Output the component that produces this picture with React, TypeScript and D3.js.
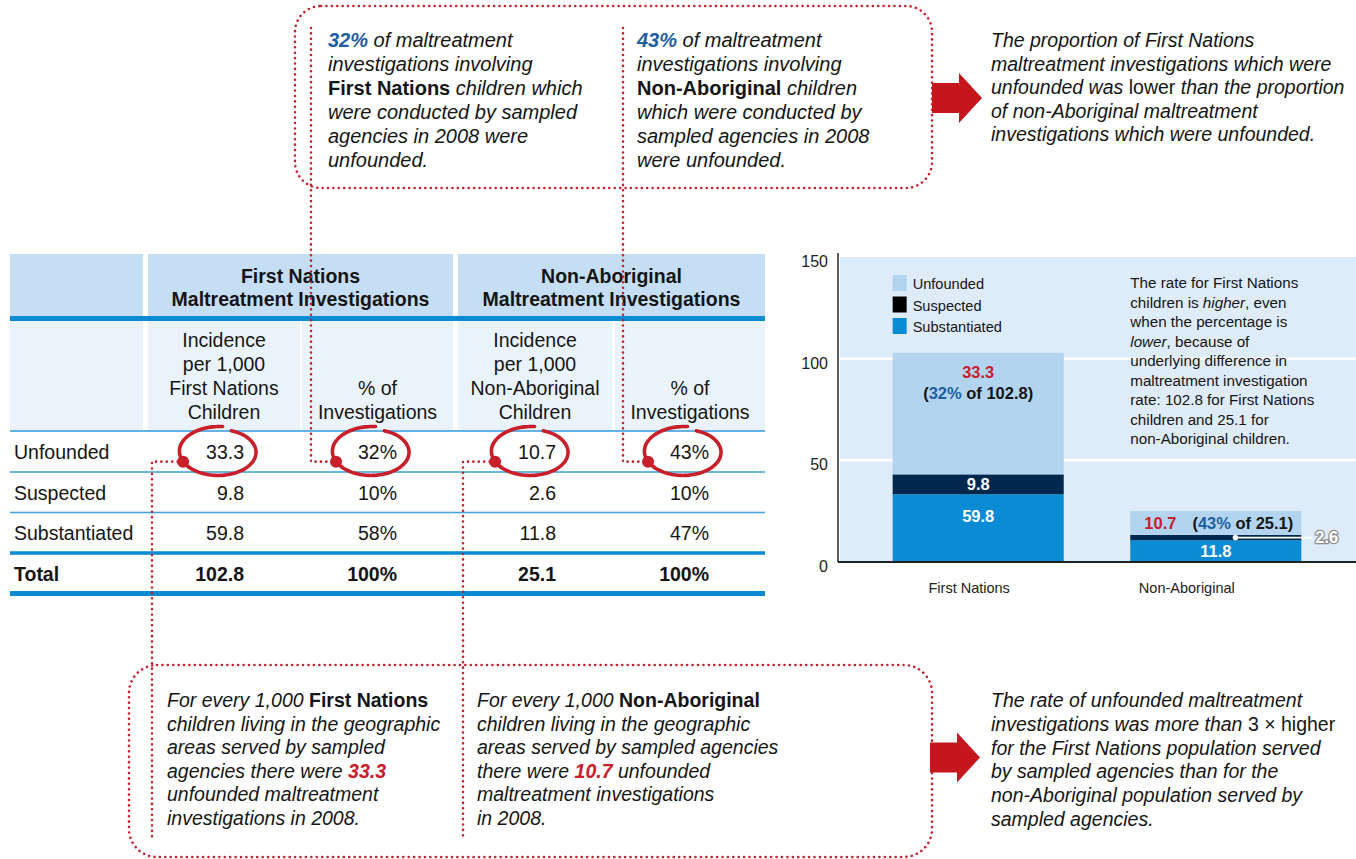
import React from "react";
import * as d3 from "d3";

// ---- data ----
const categories = ["First Nations", "Non-Aboriginal"];
const rowLabels = ["Unfounded", "Suspected", "Substantiated", "Total"];
const fnIncidence = [33.3, 9.8, 59.8, 102.8];
const fnPercent = [32, 10, 58, 100];
const naIncidence = [10.7, 2.6, 11.8, 25.1];
const naPercent = [43, 10, 47, 100];

const unfounded = [33.3, 10.7];
const suspected = [9.8, 2.6];
const substantiated = [59.8, 11.8];
const totals = [102.8, 25.1];
const unfoundedShare = [32, 43];
const yTicks = [0, 50, 100, 150];
const legendLabels = ["Unfounded", "Suspected", "Substantiated"];

const groupHeads = [
  ["First Nations", "Maltreatment Investigations"],
  ["Non-Aboriginal", "Maltreatment Investigations"],
];
const subHeads = [
  ["Incidence", "per 1,000", "First Nations", "Children"],
  ["% of", "Investigations"],
  ["Incidence", "per 1,000", "Non-Aboriginal", "Children"],
  ["% of", "Investigations"],
];

const topLeftNote = [
  "{B:32%} of maltreatment",
  "investigations involving",
  "{b:First Nations} children which",
  "were conducted by sampled",
  "agencies in 2008 were",
  "unfounded.",
];
const topMidNote = [
  "{B:43%} of maltreatment",
  "investigations involving",
  "{b:Non-Aboriginal} children",
  "which were conducted by",
  "sampled agencies in 2008",
  "were unfounded.",
];
const topRightNote = [
  "The proportion of First Nations",
  "maltreatment investigations which were",
  "unfounded was {n:lower} than the proportion",
  "of non-Aboriginal maltreatment",
  "investigations which were unfounded.",
];
const botLeftNote = [
  "For every 1,000 {b:First Nations}",
  "children living in the geographic",
  "areas served by sampled",
  "agencies there were {R:33.3}",
  "unfounded maltreatment",
  "investigations in 2008.",
];
const botMidNote = [
  "For every 1,000 {b:Non-Aboriginal}",
  "children living in the geographic",
  "areas served by sampled agencies",
  "there were {R:10.7} unfounded",
  "maltreatment investigations",
  "in 2008.",
];
const botRightNote = [
  "The rate of unfounded maltreatment",
  "investigations was more than {n:3 × higher}",
  "for the First Nations population served",
  "by sampled agencies than for the",
  "non-Aboriginal population served by",
  "sampled agencies.",
];
const chartNote = [
  "The rate for First Nations",
  "children is {i:higher}, even",
  "when the percentage is",
  "{i:lower}, because of",
  "underlying difference in",
  "maltreatment investigation",
  "rate: 102.8 for First Nations",
  "children and 25.1 for",
  "non-Aboriginal children.",
];

// ---- style ----
const W = 1356;
const H = 859;
const FONT = "'Liberation Sans', Arial, Helvetica, sans-serif";
const INK = "#151515";
const RED = "#c8202a";
const ARROW = "#c4161c";
const BLUE_TXT = "#1f5e9e";
const HEAD1 = "#c6def4";
const HEAD2 = "#eaf3fc";
const LINE = "#0a8bd3";
const THIN = "#44a5e0";
const LIGHT = "#b2d4ef";
const MID = "#0a8bd3";
const NAVY = "#00284f";
const PLOT_BG = "#deebf8";

const COLS: [number, number][] = [
  [148, 300],
  [302, 453],
  [458, 612],
  [615, 765],
];
const CONNECT_X = [152, 311, 463, 623];

type Seg = { t: string; k?: string };

const parse = (s: string): Seg[] => {
  const out: Seg[] = [];
  const re = /\{(\w+):([^}]*)\}/g;
  let last = 0;
  let m: RegExpExecArray | null;
  while ((m = re.exec(s))) {
    if (m.index > last) out.push({ t: s.slice(last, m.index) });
    out.push({ t: m[2], k: m[1] });
    last = re.lastIndex;
  }
  if (last < s.length) out.push({ t: s.slice(last) });
  return out;
};

const segStyle = (k: string | undefined, italic: boolean) => {
  if (k === "b") return { fontWeight: "bold", fontStyle: "normal", fill: INK };
  if (k === "R") return { fontWeight: "bold", fontStyle: "italic", fill: RED };
  if (k === "B") return { fontWeight: "bold", fontStyle: "italic", fill: BLUE_TXT };
  if (k === "n") return { fontWeight: "normal", fontStyle: "normal", fill: INK };
  if (k === "i") return { fontWeight: "normal", fontStyle: "italic", fill: INK };
  return { fontWeight: "normal", fontStyle: italic ? "italic" : "normal", fill: INK };
};

const Para = ({ x, y, lh, size, italic, lines }: any) => (
  <text x={x} y={y} fontSize={size} fontFamily={FONT} style={{ whiteSpace: "pre" }}>
    {lines.map((line: string, li: number) => (
      <tspan key={li} x={x} y={y + li * lh}>
        {parse(line).map((s, si) => (
          <tspan key={si} {...segStyle(s.k, italic)}>
            {s.t}
          </tspan>
        ))}
      </tspan>
    ))}
  </text>
);

const dotted = {
  fill: "none",
  stroke: RED,
  strokeWidth: 2.6,
  strokeDasharray: "0.01 5.4",
  strokeLinecap: "round" as const,
};

// hand-drawn looking loop around a table value
const loopPoint = (cx: number, cy: number, k: number): [number, number] => {
  const a = ((-70 + k * 345) * Math.PI) / 180;
  const g = 0.95 + 0.13 * k;
  return [cx + 38 * g * Math.cos(a), cy + 23.5 * g * Math.sin(a)];
};
const loopPath = (cx: number, cy: number) =>
  d3.line().curve(d3.curveBasis)(d3.range(0, 1.0001, 0.02).map((k) => loopPoint(cx, cy, k))) || "";

const arrowPts = (x0: number, cy: number) =>
  [
    [x0, cy - 15],
    [x0 + 27, cy - 15],
    [x0 + 27, cy - 25],
    [x0 + 50, cy],
    [x0 + 27, cy + 25],
    [x0 + 27, cy + 15],
    [x0, cy + 15],
  ]
    .map((p) => p.join(","))
    .join(" ");

export default function App() {
  // table rows
  const rowY = d3.scaleBand<string>().domain(rowLabels).range([431.5, 593.5]);
  const valueCols = [fnIncidence, fnPercent, naIncidence, naPercent];
  const fmt = (j: number, v: number) => (j % 2 === 0 ? v.toFixed(1) : `${v}%`);
  const valRight = COLS.map(([, b]) => b - 56);

  // chart
  const x = d3.scaleBand<string>().domain(categories).range([838, W]).paddingInner(0.28).paddingOuter(0.23);
  const y = d3.scaleLinear().domain([0, 150]).range([562, 257]);
  const rows = categories.map((c, i) => ({
    cat: c,
    unfounded: unfounded[i],
    suspected: suspected[i],
    substantiated: substantiated[i],
  }));
  const stack = d3.stack<any>().keys(["unfounded", "suspected", "substantiated"])(rows);
  const layerFill = [MID, NAVY, LIGHT];
  const legendFill = [LIGHT, "#000", MID];
  const labelShift = [-9, -29];
  const bw = x.bandwidth();

  const unfRow = rowY(rowLabels[0])! + rowY.bandwidth() / 2;

  return (
    <svg width={W} height={H} style={{ position: "absolute", left: 0, top: 0 }} fontFamily={FONT}>
      <rect width={W} height={H} fill="#fff" />

      {/* ---------- table ---------- */}
      <rect x={10} y={254} width={133} height={62} fill={HEAD1} />
      {[0, 1].map((g) => (
        <rect key={g} x={COLS[g * 2][0]} y={254} width={COLS[g * 2 + 1][1] - COLS[g * 2][0]} height={62} fill={HEAD1} />
      ))}
      <rect x={10} y={321} width={133} height={109} fill={HEAD2} />
      {COLS.map(([a, b], j) => (
        <rect key={j} x={a} y={321} width={b - a} height={109} fill={HEAD2} />
      ))}
      <rect x={10} y={316} width={755} height={5} fill={LINE} />
      <rect x={10} y={430} width={755} height={2} fill="#62b2e6" />

      {groupHeads.map((lines, g) => {
        const cx = (COLS[g * 2][0] + COLS[g * 2 + 1][1]) / 2;
        return (
          <text key={g} textAnchor="middle" fontSize={19.5} fontWeight="bold" fill={INK}>
            {lines.map((t, li) => (
              <tspan key={li} x={cx} y={283 + li * 23}>
                {t}
              </tspan>
            ))}
          </text>
        );
      })}
      {subHeads.map((lines, j) => {
        const cx = (COLS[j][0] + COLS[j][1]) / 2;
        return (
          <text key={j} textAnchor="middle" fontSize={19.5} fill={INK}>
            {lines.map((t, li) => (
              <tspan key={li} x={cx} y={419 - (lines.length - 1 - li) * 24}>
                {t}
              </tspan>
            ))}
          </text>
        );
      })}

      {rowLabels.map((r, i) => {
        const y0 = rowY(r)!;
        const cy = y0 + rowY.bandwidth() / 2;
        const last = i === rowLabels.length - 1;
        const lineW = i < 2 ? 1.6 : last ? 5 : 3.5;
        return (
          <g key={r}>
            <text x={14} y={cy + 7.5} fontSize={19.5} fontWeight={last ? "bold" : "normal"} fill={INK}>
              {r}
            </text>
            {valueCols.map((vals, j) => (
              <text
                key={j}
                x={valRight[j]}
                y={cy + 7.5}
                textAnchor="end"
                fontSize={19.5}
                fontWeight={last ? "bold" : "normal"}
                fill={INK}
              >
                {fmt(j, vals[i])}
              </text>
            ))}
            <rect
              x={10}
              y={y0 + rowY.bandwidth() - lineW / 2}
              width={755}
              height={lineW}
              fill={i < 2 ? THIN : LINE}
            />
          </g>
        );
      })}

      {/* ---------- callout boxes ---------- */}
      <rect x={295} y={6} width={637} height={182} rx={26} {...dotted} />
      <rect x={129} y={665} width={803} height={192} rx={28} {...dotted} />

      {valRight.map((vr, j) => {
        const cx = vr - 25;
        const [dx, dy] = loopPoint(cx, unfRow, 0.655);
        const lx = CONNECT_X[j];
        const d = j % 2 === 0 ? `M${dx},${dy}H${lx}V838` : `M${lx},28V${dy}H${dx}`;
        return (
          <g key={j}>
            <path d={d} {...dotted} />
            <path d={loopPath(cx, unfRow)} fill="none" stroke={RED} strokeWidth={3.6} strokeLinecap="round" />
            <circle cx={dx} cy={dy} r={6} fill={RED} />
          </g>
        );
      })}

      <Para x={328} y={47} lh={24} size={20} italic lines={topLeftNote} />
      <Para x={637} y={47} lh={24} size={20} italic lines={topMidNote} />
      <Para x={991} y={47} lh={23.6} size={19.5} italic lines={topRightNote} />
      <Para x={167} y={707} lh={23.6} size={19.5} italic lines={botLeftNote} />
      <Para x={477} y={707} lh={23.6} size={19.5} italic lines={botMidNote} />
      <Para x={991} y={707} lh={23.8} size={19.5} italic lines={botRightNote} />

      <polygon points={arrowPts(932, 98)} fill={ARROW} />
      <polygon points={arrowPts(930, 757.5)} fill={ARROW} />

      {/* ---------- stacked bar chart ---------- */}
      <rect x={840} y={y(150)} width={W - 840} height={y(0) - y(150)} fill={PLOT_BG} />
      {yTicks
        .filter((t) => t > 0 && t < 150)
        .map((t) => (
          <line key={t} x1={840} x2={W} y1={y(t)} y2={y(t)} stroke="#fff" strokeWidth={2.5} />
        ))}
      {yTicks.map((t) => (
        <text key={t} x={828} y={y(t) + 10} textAnchor="end" fontSize={16} fill="#222">
          {t}
        </text>
      ))}

      {stack.map((layer, li) =>
        layer.map((d, i) => (
          <rect
            key={`${li}-${i}`}
            x={x(categories[i])}
            y={y(d[1])}
            width={bw}
            height={y(d[0]) - y(d[1])}
            fill={layerFill[li]}
          />
        ))
      )}

      {categories.map((c, i) => {
        const x0 = x(c)!;
        const cx = x0 + bw / 2;
        const [b0, b1] = stack[0][i];
        const [m0, m1] = stack[1][i];
        const [t0, t1] = stack[2][i];
        const bTop = y(b1);
        const bMid = (y(b0) + y(b1)) / 2;
        const mMid = (y(m0) + y(m1)) / 2;
        const tTop = y(t1);
        const tMid = (y(t0) + y(t1)) / 2;
        const tall = y(t0) - y(t1) > 60;
        const midInside = y(m0) - y(m1) > 12;
        return (
          <g key={c} fontSize={16.5} fontWeight="bold">
            <text x={cx} y={Math.min(bMid, bTop + 22) + 6} textAnchor="middle" fill="#fff">
              {substantiated[i].toFixed(1)}
            </text>
            {midInside ? (
              <text x={cx} y={mMid + 6} textAnchor="middle" fill="#fff">
                {suspected[i].toFixed(1)}
              </text>
            ) : (
              <g>
                <line x1={x0 + bw * 0.615} x2={x0 + bw + 11} y1={mMid} y2={mMid} stroke="#fff" strokeWidth={1.6} />
                <circle cx={x0 + bw * 0.615} cy={mMid} r={2.8} fill="#fff" />
                <text
                  x={x0 + bw + 14}
                  y={mMid + 5}
                  fill="#fff"
                  stroke="#8f8f8f"
                  strokeWidth={2.6}
                  paintOrder="stroke"
                  strokeLinejoin="round"
                >
                  {suspected[i].toFixed(1)}
                </text>
              </g>
            )}
            {tall ? (
              <g>
                <text x={cx} y={tTop + 25} textAnchor="middle" fill={RED}>
                  {unfounded[i].toFixed(1)}
                </text>
                <text x={cx} y={tTop + 46} textAnchor="middle" fill={INK} style={{ whiteSpace: "pre" }}>
                  (<tspan fill={BLUE_TXT}>{unfoundedShare[i]}%</tspan> of {totals[i].toFixed(1)})
                </text>
              </g>
            ) : (
              <text x={cx + 3} y={tMid + 6} textAnchor="middle" fill={INK} style={{ whiteSpace: "pre" }}>
                <tspan fill={RED}>{unfounded[i].toFixed(1)}</tspan>
                <tspan dx={16}>(</tspan>
                <tspan fill={BLUE_TXT}>{unfoundedShare[i]}%</tspan>
                <tspan> of {totals[i].toFixed(1)})</tspan>
              </text>
            )}
            <text
              x={cx + labelShift[i]}
              y={593}
              textAnchor="middle"
              fontSize={14.5}
              fontWeight="normal"
              fill="#222"
            >
              {c}
            </text>
          </g>
        );
      })}

      <line x1={838} x2={838} y1={253} y2={y(0)} stroke="#333" strokeWidth={1.6} />
      <line x1={838} x2={W} y1={y(0)} y2={y(0)} stroke="#222" strokeWidth={2} />

      {legendLabels.map((l, k) => (
        <g key={l}>
          <rect x={x(categories[0])} y={275 + k * 21.5} width={14} height={16} fill={legendFill[k]} />
          <text x={x(categories[0])! + 20} y={289 + k * 21.5} fontSize={14.6} fill={INK}>
            {l}
          </text>
        </g>
      ))}
      <Para x={x(categories[1])} y={288} lh={19.5} size={15.2} italic={false} lines={chartNote} />
    </svg>
  );
}
